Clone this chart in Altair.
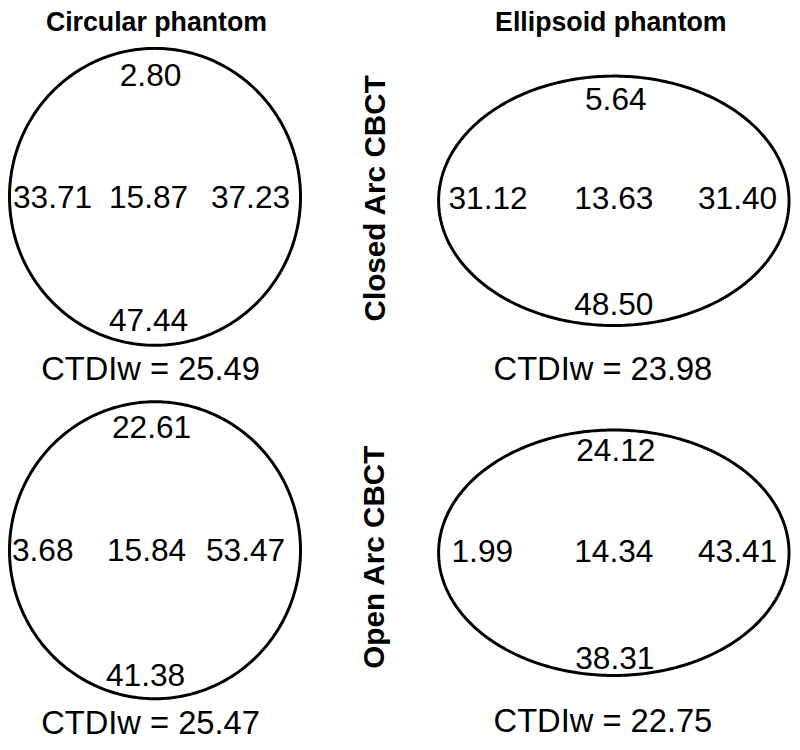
import altair as alt
import numpy as np
import pandas as pd

# ---------------- data ----------------
panels = ["Closed arc / circular", "Closed arc / ellipsoid", "Open arc / circular", "Open arc / ellipsoid"]
top_vals = [2.80, 5.64, 22.61, 24.12]
left_vals = [33.71, 31.12, 3.68, 1.99]
center_vals = [15.87, 13.63, 15.84, 14.34]
right_vals = [37.23, 31.40, 53.47, 43.41]
bottom_vals = [47.44, 48.50, 41.38, 38.31]
ctdiw_vals = [25.49, 23.98, 25.47, 22.75]
column_titles = ["Circular phantom", "Ellipsoid phantom"]
row_titles = ["Closed Arc CBCT", "Open Arc CBCT"]

# ---------------- layout (pixel frame of the 800x750 page) ----------------
shape_cx = [156.5, 620.0, 156.5, 620.0]
shape_cy = [195.0, 199.0, 552.0, 554.5]
shape_rx = [147.0, 177.0, 147.0, 177.0]
shape_ry = [150.0, 126.0, 150.0, 124.0]

top_xy = [(152, 71), (622, 95), (153, 427), (622, 450)]
left_xy = [(13, 194), (453, 195), (12, 551), (456, 552)]      # left edge
center_xy = [(150, 194), (620, 195), (148, 551), (620, 552)]
right_xy = [(293, 194), (785, 195), (288, 551), (785, 552)]  # right edge
bottom_xy = [(150, 319), (620, 302), (147, 677), (621, 660)]
ctdi_xy = [(152, 368), (609, 368), (152, 726), (609, 724)]
col_title_xy = [(158, 27), (617, 27)]
row_title_xy = [(389, 196.5), (388, 559)]

FONT = "Liberation Sans"
NUM_SIZE = 32
DY = 2  # visual centre -> 'middle' anchor

# ---------------- tables ----------------
outline_rows = []
theta = np.linspace(0, 2 * np.pi, 361)
for i, p in enumerate(panels):
    for k, t in enumerate(theta):
        outline_rows.append({
            "panel": p, "k": k,
            "x": shape_cx[i] + shape_rx[i] * np.cos(t),
            "y": shape_cy[i] + shape_ry[i] * np.sin(t),
        })
outline_df = pd.DataFrame(outline_rows)

def slot_df(vals, xy):
    return pd.DataFrame({
        "panel": panels,
        "value": vals,
        "x": [a for a, b in xy],
        "y": [b + DY for a, b in xy],
    })

mid_df = pd.concat([slot_df(top_vals, top_xy), slot_df(center_vals, center_xy),
                    slot_df(bottom_vals, bottom_xy)], ignore_index=True)
left_df = slot_df(left_vals, left_xy)
right_df = slot_df(right_vals, right_xy)
ctdi_df = pd.DataFrame({
    "label": [f"CTDIw = {v:.2f}" for v in ctdiw_vals],
    "x": [a for a, b in ctdi_xy],
    "y": [b + DY for a, b in ctdi_xy],
})
col_df = pd.DataFrame({"label": column_titles,
                       "x": [a for a, b in col_title_xy], "y": [b for a, b in col_title_xy]})
row_df = pd.DataFrame({"label": row_titles,
                       "x": [a for a, b in row_title_xy], "y": [b for a, b in row_title_xy]})

xs = alt.Scale(domain=[8, 800], nice=False, zero=False)
ys = alt.Scale(domain=[8, 750], nice=False, zero=False, reverse=True)
X = lambda: alt.X("x:Q", scale=xs, axis=None)
Y = lambda: alt.Y("y:Q", scale=ys, axis=None)

outlines = alt.Chart(outline_df).mark_line(color="black", strokeWidth=3).encode(
    x=X(), y=Y(), detail="panel:N", order="k:Q")

def num_layer(df, align):
    return alt.Chart(df).mark_text(font=FONT, fontSize=NUM_SIZE, color="black",
                                   align=align, baseline="middle").encode(
        x=X(), y=Y(), text=alt.Text("value:Q", format=".2f"))

mid_text = num_layer(mid_df, "center")
left_text = num_layer(left_df, "left")
right_text = num_layer(right_df, "right")

ctdi_text = alt.Chart(ctdi_df).mark_text(font=FONT, fontSize=33, color="black",
                                         align="center", baseline="middle").encode(
    x=X(), y=Y(), text="label:N")

col_text = alt.Chart(col_df).mark_text(font=FONT, fontSize=27, fontWeight="bold", color="black",
                                       align="center", baseline="alphabetic").encode(
    x=X(), y=Y(), text="label:N")

row_text = alt.Chart(row_df).mark_text(font=FONT, fontSize=30, fontWeight="bold", color="black",
                                       align="center", baseline="alphabetic", angle=270).encode(
    x=X(), y=Y(), text="label:N")

chart = alt.layer(outlines, mid_text, left_text, right_text, ctdi_text, col_text, row_text).properties(
    width=792, height=742, padding=0, autosize=alt.AutoSizeParams(type="none"),
    background="white",
).configure_view(stroke=None)

chart.save("out.html", embed_options={"renderer": "svg", "actions": False})
